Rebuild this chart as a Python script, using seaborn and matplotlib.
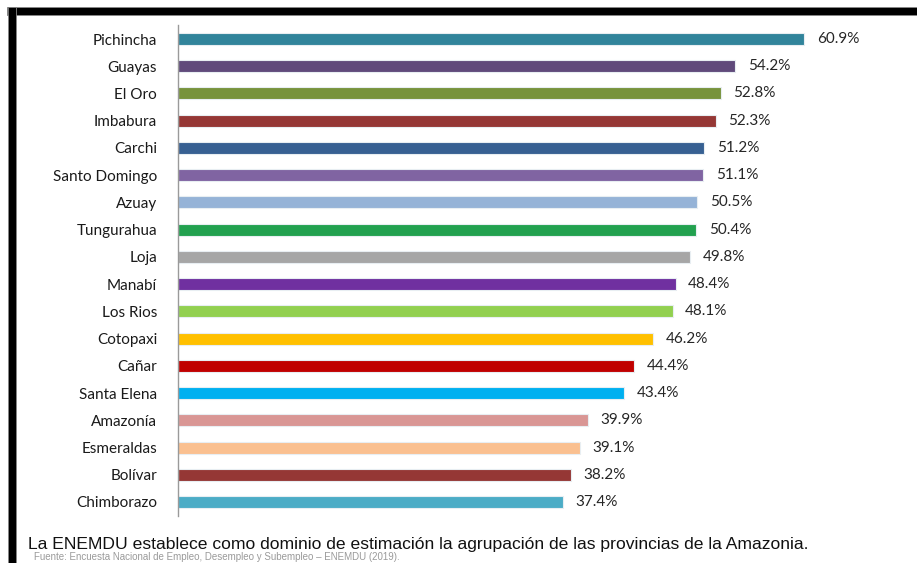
import numpy as np
import pandas as pd
import matplotlib
matplotlib.use("Agg")
import matplotlib.pyplot as plt
import seaborn as sns
from matplotlib.ticker import FixedLocator

provincias = ["Pichincha", "Guayas", "El Oro", "Imbabura", "Carchi", "Santo Domingo",
              "Azuay", "Tungurahua", "Loja", "Manabí", "Los Rios", "Cotopaxi", "Cañar",
              "Santa Elena", "Amazonía", "Esmeraldas", "Bolívar", "Chimborazo"]
valores = [60.9, 54.2, 52.8, 52.3, 51.2, 51.1, 50.5, 50.4, 49.8, 48.4, 48.1, 46.2,
           44.4, 43.4, 39.9, 39.1, 38.2, 37.4]
colores = ["#31849B", "#604A7B", "#77933C", "#953735", "#376092", "#8064A2",
           "#95B3D7", "#22A14F", "#A6A6A6", "#7030A0", "#92D050", "#FFC000",
           "#C00000", "#00B0F0", "#D99694", "#FAC090", "#953735", "#4BACC6"]
nota = "La ENEMDU establece como dominio de estimación la agrupación de las provincias de la Amazonia."
fuente = "Fuente: Encuesta Nacional de Empleo, Desempleo y Subempleo – ENEMDU (2019)."

df = pd.DataFrame({"provincia": provincias, "valor": valores})

sns.set_style("white")
plt.rcParams["font.family"] = ["Lato", "DejaVu Sans"]

fig = plt.figure(figsize=(9.17, 5.63), dpi=100)
ax = fig.add_axes([0.194, 0.0842, 0.785, 0.8707])

sns.barplot(data=df, x="valor", y="provincia", hue="provincia", palette=colores,
            legend=False, width=0.44, orient="h", ax=ax, saturation=1,
            edgecolor="#e8eef2", linewidth=0.8)

for cont in ax.containers:
    ax.bar_label(cont, labels=[f"{v:.1f}%" for v in cont.datavalues], padding=9,
                 fontsize=11, color="#262626")

ax.set_xlim(0, 70)
ax.set_ylim(len(provincias) - 0.5, -0.5)
ax.set_xlabel("")
ax.set_ylabel("")
ax.set_xticks([])
for s in ["top", "right", "bottom"]:
    ax.spines[s].set_visible(False)
ax.spines["left"].set_color("#9a9a9a")
ax.spines["left"].set_linewidth(1.0)
ax.tick_params(axis="y", which="major", length=0, labelsize=11, labelcolor="#1a1a1a", pad=15)
ax.yaxis.set_minor_locator(FixedLocator(np.arange(-0.5, len(provincias), 1.0)))
ax.tick_params(axis="y", which="minor", length=4, color="#9a9a9a", width=1.0)

# marco negro superior e izquierdo
fig.patches.append(plt.Rectangle((7 / 917, 1 - 15 / 563), 1, 8 / 563, transform=fig.transFigure,
                                 facecolor="black", edgecolor="#888888", linewidth=0.6))
fig.patches.append(plt.Rectangle((8 / 917, -0.1), 8 / 917, 1.1 - 7 / 563, transform=fig.transFigure,
                                 facecolor="black", edgecolor="#888888", linewidth=0.6))

fig.text(28 / 917, 1 - 545 / 563, nota, fontsize=12.6, va="center", ha="left",
         family=["Liberation Sans", "DejaVu Sans"], color="#111111")
fig.text(34 / 917, 1 - 562.5 / 563, fuente, fontsize=7, va="bottom", ha="left",
         family=["Liberation Sans", "DejaVu Sans"], color="#9a9a9a")

fig.savefig("out.png", dpi=100)
